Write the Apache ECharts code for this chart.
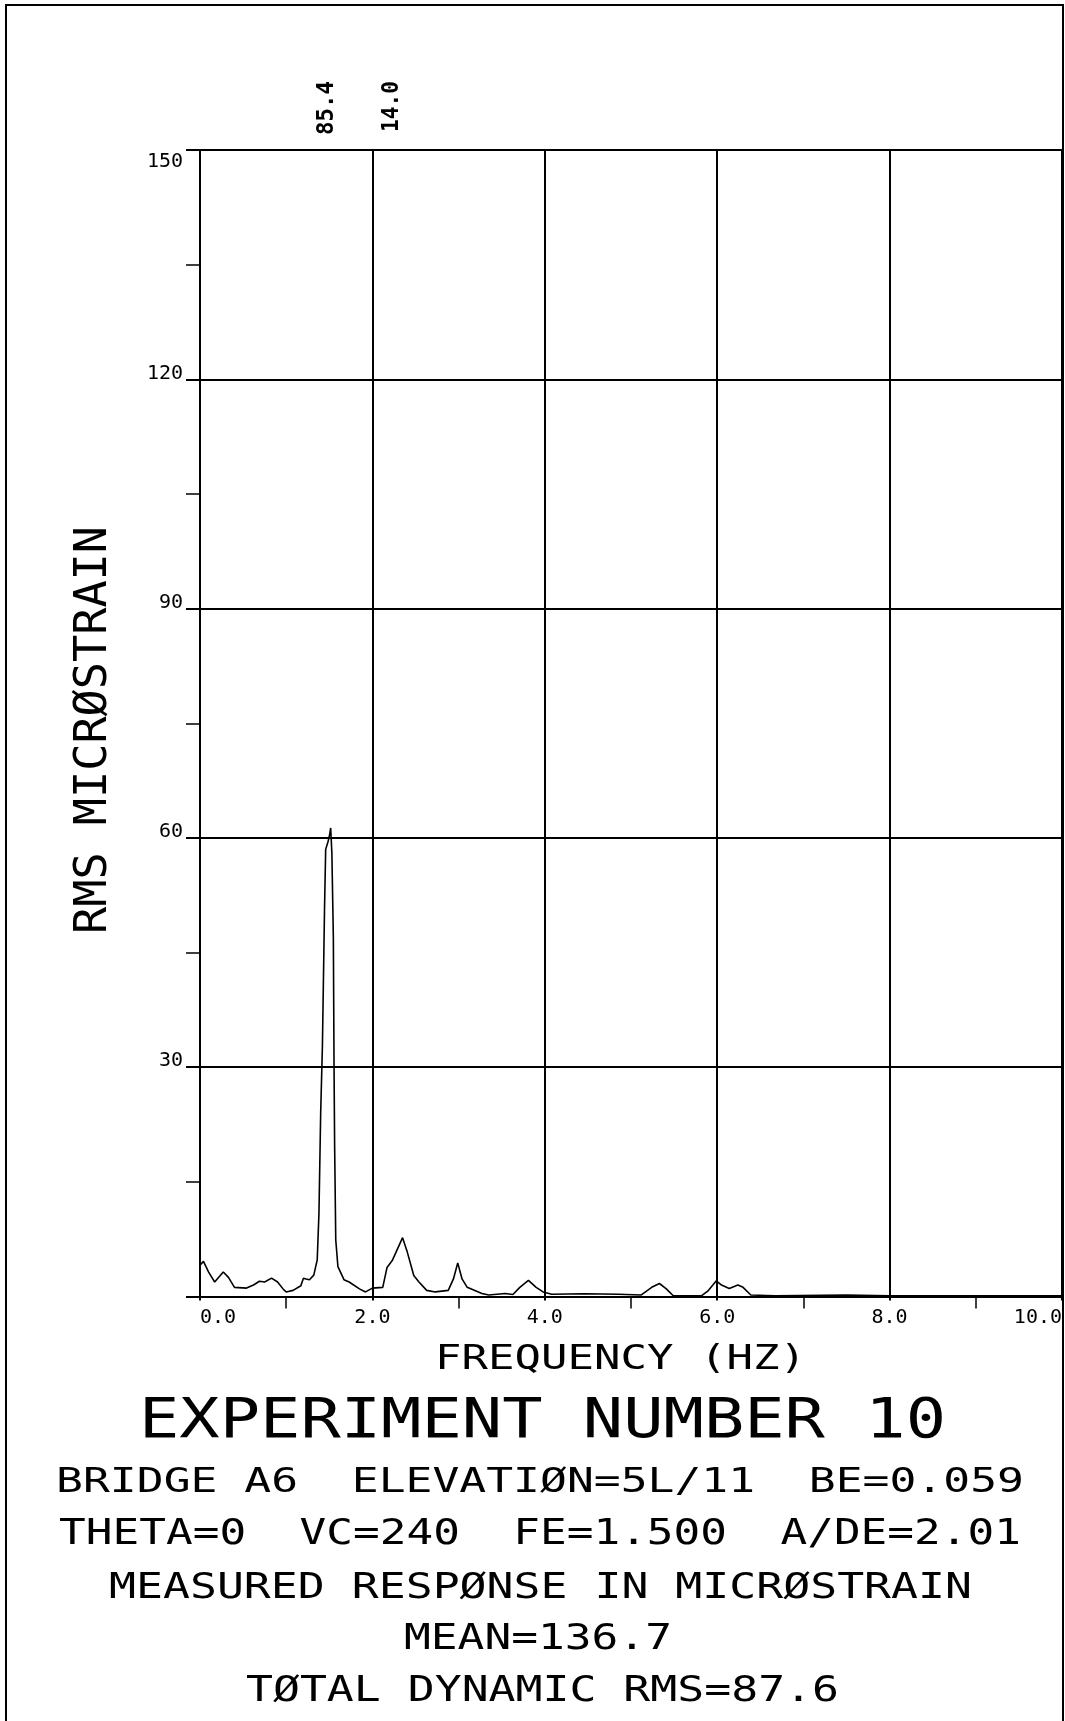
<!DOCTYPE html>
<html>
<head>
<meta charset="utf-8">
<script src="https://cdn.jsdelivr.net/npm/echarts@6/dist/echarts.min.js"></script>
<style>
html,body{margin:0;padding:0;background:#fff;}
#chart{width:1065px;height:1721px;}
</style>
</head>
<body>
<div id="chart"></div>
<script>
// ---- data ----
const freqHz = [0.00,0.04,0.10,0.17,0.27,0.33,0.40,0.54,0.62,0.69,0.75,0.83,0.90,0.97,1.00,1.08,1.17,1.20,1.23,1.27,1.32,1.36,1.38,1.40,1.42,1.445,1.458,1.485,1.505,1.516,1.53,1.547,1.555,1.562,1.575,1.60,1.67,1.73,1.85,1.92,2.00,2.12,2.17,2.23,2.35,2.40,2.48,2.54,2.63,2.73,2.88,2.94,2.99,3.04,3.10,3.27,3.35,3.54,3.63,3.71,3.81,3.90,3.98,4.08,4.46,4.85,5.12,5.24,5.33,5.41,5.49,5.82,5.89,5.99,6.05,6.14,6.24,6.30,6.39,6.67,7.50,8.00,9.00,10.00];
const rmsMicrostrain = [4.1,4.6,3.2,1.9,3.2,2.5,1.2,1.1,1.5,2.0,1.9,2.4,1.9,0.9,0.6,0.8,1.4,2.4,2.3,2.2,2.8,4.8,10.9,24.0,32.7,51.0,58.5,59.5,60.5,61.3,58.0,47.0,30.0,19.6,7.4,3.9,2.2,1.9,1.0,0.6,1.1,1.2,3.8,4.7,7.7,6.0,2.75,1.9,0.8,0.6,0.8,2.3,4.4,2.3,1.2,0.4,0.2,0.4,0.26,1.2,2.1,1.2,0.6,0.3,0.35,0.3,0.2,1.2,1.7,1.0,0.1,0.1,0.7,2.05,1.5,1.05,1.5,1.2,0.2,0.1,0.2,0.1,0.1,0.1];
const peakLabels = ['85.4','14.0'];
const yTitle = 'RMS MICRØSTRAIN';
const xTitle = 'FREQUENCY (HZ)';
const mainTitle = 'EXPERIMENT NUMBER 10';
const infoLines = [
  'BRIDGE A6  ELEVATIØN=5L/11  BE=0.059',
  'THETA=0  VC=240  FE=1.500  A/DE=2.01',
  'MEASURED RESPØNSE IN MICRØSTRAIN',
  'MEAN=136.7',
  'TØTAL DYNAMIC RMS=87.6'
];

const MONO = '"DejaVu Sans Mono", "Liberation Mono", monospace';

function capText(str, cx, cy, cap, width, rot, bold) {
  const fs = cap / 0.729;
  const adv = width / (str.length - 0.3);
  const sx = adv / (0.602 * fs);
  return {
    type: 'text', x: cx, y: cy, rotation: rot || 0, scaleX: sx, scaleY: 1,
    style: {
      text: str, x: 0, y: 0, fill: '#000',
      fontSize: fs, fontFamily: MONO, fontWeight: bold ? 'bold' : 'normal',
      align: 'center', verticalAlign: 'middle',
      textAlign: 'center', textVerticalAlign: 'middle'
    }
  };
}

const chart = echarts.init(document.getElementById('chart'), null, {renderer: 'canvas'});

const graphics = [
  {type: 'rect', shape: {x: 6, y: 5, width: 1057, height: 1760},
   style: {fill: 'none', stroke: '#000', lineWidth: 2}, z: 100},
  capText(peakLabels[0], 326.5, 108, 17, 50, Math.PI / 2, true),
  capText(peakLabels[1], 392, 106.5, 17, 47, Math.PI / 2, true),
  capText(yTitle, 95, 730, 32, 400, Math.PI / 2, false),
  capText(xTitle, 620.5, 1360.5, 25, 363, 0, false),
  capText(mainTitle, 542.5, 1423, 40, 795, 0, false),
  capText(infoLines[0], 540, 1483.5, 25, 960, 0, false),
  capText(infoLines[1], 540, 1535, 26, 954, 0, false),
  capText(infoLines[2], 540.5, 1588.5, 26, 855, 0, false),
  capText(infoLines[3], 538, 1640, 26, 260, 0, false),
  capText(infoLines[4], 542.5, 1691.5, 26, 585, 0, false)
];

const blackLine = {color: '#000', width: 2};

const option = {
  animation: false,
  backgroundColor: '#fff',
  grid: {left: 200, right: 2, top: 150, bottom: 424.5, containLabel: false},
  xAxis: {
    type: 'value', min: 0, max: 10, interval: 2,
    axisLine: {show: true, onZero: false, lineStyle: blackLine},
    axisTick: {show: true, length: 4, lineStyle: {color: '#000', width: 2}},
    minorTick: {show: true, splitNumber: 2, length: 12, lineStyle: {color: '#000', width: 1.5}},
    splitLine: {show: true, lineStyle: blackLine},
    axisLabel: {
      formatter: v => v.toFixed(1), fontFamily: MONO, fontSize: 20, color: '#000',
      margin: 11, alignMinLabel: 'left', alignMaxLabel: 'right'
    }
  },
  yAxis: {
    type: 'value', min: 0, max: 150, interval: 30,
    axisLine: {show: true, onZero: false, lineStyle: blackLine},
    axisTick: {show: true, length: 14, lineStyle: {color: '#000', width: 2}},
    minorTick: {show: true, splitNumber: 2, length: 14, lineStyle: {color: '#000', width: 1.5}},
    splitLine: {show: true, lineStyle: blackLine},
    axisLabel: {
      showMinLabel: false,
      formatter: v => (v === 150 ? ' \n \n' + v : v + '\n '),
      fontFamily: MONO, fontSize: 20, color: '#000', lineHeight: 12,
      verticalAlign: 'middle', margin: 17
    }
  },
  series: [{
    type: 'line',
    data: freqHz.map((f, i) => [f, rmsMicrostrain[i]]),
    showSymbol: false, symbol: 'none', smooth: false,
    lineStyle: {color: '#000', width: 1.6},
    clip: true
  }],
  graphic: graphics
};
chart.setOption(option);
</script>
</body>
</html>
